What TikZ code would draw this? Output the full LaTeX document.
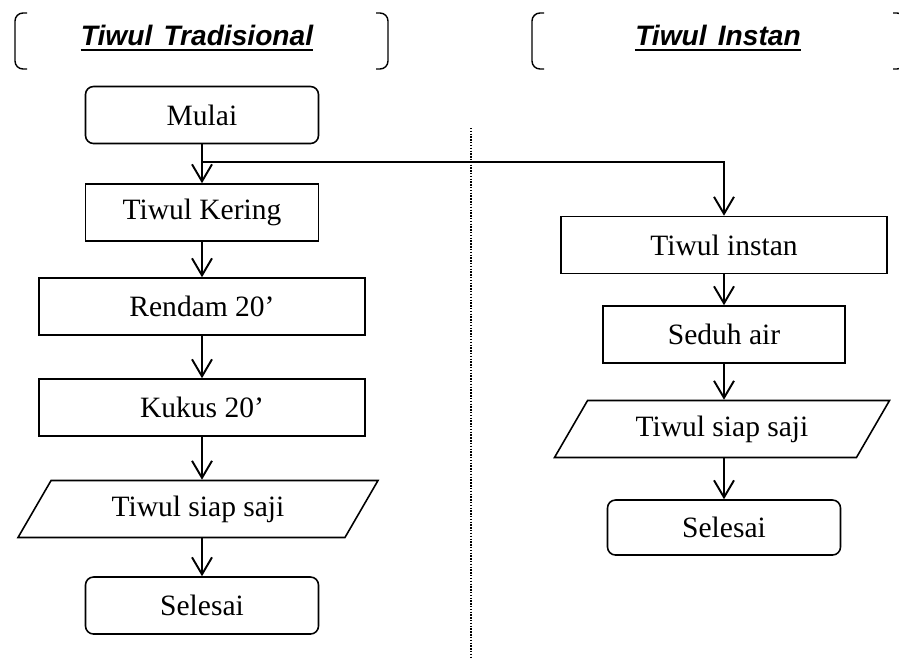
\documentclass[tikz,border=0pt]{standalone}
\usepackage{fontspec}
\setmainfont{Liberation Serif}
\newfontfamily\titlefont{Liberation Sans}
\usetikzlibrary{arrows.meta, shapes.geometric}

\tikzset{
  procbox/.style={draw, line width=0.9pt, minimum height=11.4mm, inner sep=0pt,
    font=\fontsize{16.8}{20}\selectfont},
  termbox/.style={procbox, rounded corners=1.6mm, minimum width=46.6mm},
  iobox/.style={procbox, trapezium, trapezium left angle=39, trapezium right angle=141,
    trapezium stretches body},
  flow/.style={line width=1.1pt, -{Straight Barb[length=3.4mm,width=4mm]}},
  titletext/.style={inner sep=0pt, anchor=base, font=\titlefont\fontsize{16}{19}\bfseries\itshape},
  bracket/.style={line width=0.8pt, rounded corners=1.6mm}
}

\begin{document}
\begin{tikzpicture}[x=0.2mm, y=-0.2mm]
  \path[use as bounding box, clip] (0,0) rectangle (899,657);

  % Headings
  \node[titletext] (tradTitle) at (197,45) {Tiwul\hspace{0.4em}Tradisional};
  \node[titletext] (instTitle) at (718,45) {Tiwul\hspace{0.4em}Instan};
  \draw[line width=1.2pt] ([yshift=-3pt]tradTitle.base west) -- ([yshift=-3pt]tradTitle.base east);
  \draw[line width=1.2pt] ([yshift=-3pt]instTitle.base west) -- ([yshift=-3pt]instTitle.base east);
  \draw[bracket] (27,13) -- (15,13) -- (15,69) -- (27,69);
  \draw[bracket] (376,13) -- (388,13) -- (388,69) -- (376,69);
  \draw[bracket] (544,13) -- (532,13) -- (532,69) -- (544,69);
  \draw[bracket] (893,13) -- (905,13) -- (905,69) -- (893,69);

  % Divider
  \draw[line width=0.8pt, dash pattern=on 0.8pt off 0.8pt] (471,128) -- (471,657);

  % Traditional
  \node[termbox] (mulai) at (202,115) {Mulai};
  \node[procbox, minimum width=46.6mm] (kering) at (202,212.5) {Tiwul Kering};
  \node[procbox, minimum width=65.2mm] (rendam) at (202,306.5) {Rendam 20’};
  \node[procbox, minimum width=65.2mm] (kukus) at (202,407.5) {Kukus 20’};
  \node[iobox, minimum width=72mm] (sajiTrad) at (198,509) {Tiwul siap saji};
  \node[termbox] (selesaiTrad) at (202,605.5) {Selesai};

  % Instant
  \node[procbox, minimum width=65.2mm] (instan) at (724,245) {Tiwul instan};
  \node[procbox, minimum width=48.4mm] (seduh) at (724,334.5) {Seduh air};
  \node[iobox, minimum width=67mm] (sajiInst) at (722,429) {Tiwul siap saji};
  \node[termbox, minimum height=11mm] (selesaiInst) at (724,527.5) {Selesai};

  % Arrows
  \coordinate (split) at (202,162);
  \draw[flow] (mulai) -- (kering);
  \draw[flow] (split) -| (instan);
  \draw[flow] (kering) -- (rendam);
  \draw[flow] (rendam) -- (kukus);
  \draw[flow] (kukus) -- (kukus |- sajiTrad.north);
  \draw[flow] (kukus |- sajiTrad.south) -- (selesaiTrad);
  \draw[flow] (instan) -- (seduh);
  \draw[flow] (seduh) -- (seduh |- sajiInst.north);
  \draw[flow] (seduh |- sajiInst.south) -- (selesaiInst);
\end{tikzpicture}
\end{document}
